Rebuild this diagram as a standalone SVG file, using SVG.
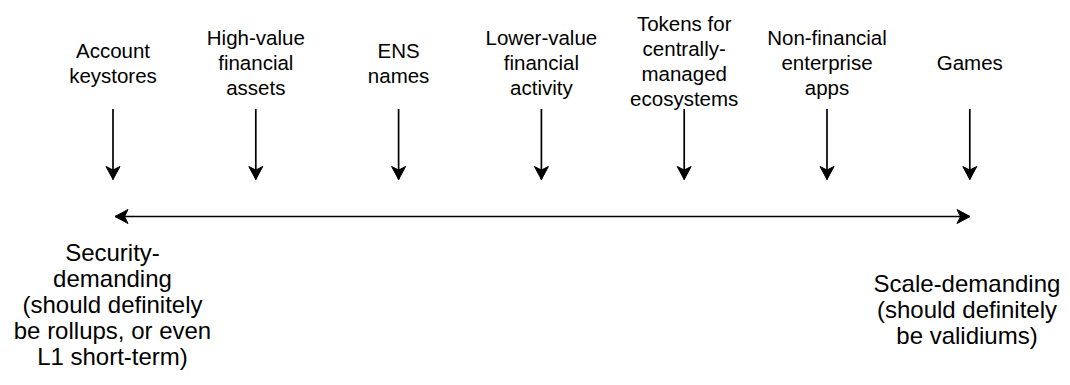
<svg xmlns="http://www.w3.org/2000/svg" width="1070" height="385" viewBox="0 0 1070 385">
<style>
.lbl{font-family:"Liberation Sans",Arial,Helvetica,sans-serif;font-size:20.5px;fill:#000;text-anchor:middle}
.big{font-family:"Liberation Sans",Arial,Helvetica,sans-serif;font-size:24px;fill:#000;text-anchor:middle}
.edge{stroke:#000;stroke-width:1.7;fill:none}
</style>
<defs>
<marker id="arr" viewBox="-14 -8 16 16" refX="0" refY="0" markerWidth="16" markerHeight="16" markerUnits="userSpaceOnUse" orient="auto-start-reverse">
<path d="M0,0 L-13,-7 L-9.5,0 L-13,7 Z" fill="#000" stroke="#000" stroke-width="1"/>
</marker>
</defs>
<rect width="1070" height="385" fill="#fff"/>
<g id="n1"><text class="lbl"><tspan x="113" y="57.5">Account</tspan><tspan x="113" y="82.5">keystores</tspan></text></g>
<g id="n2"><text class="lbl"><tspan x="255.8" y="45">High-value</tspan><tspan x="255.8" y="70">financial</tspan><tspan x="255.8" y="95">assets</tspan></text></g>
<g id="n3"><text class="lbl"><tspan x="398.6" y="57.5">ENS</tspan><tspan x="398.6" y="82.5">names</tspan></text></g>
<g id="n4"><text class="lbl"><tspan x="541.4" y="45">Lower-value</tspan><tspan x="541.4" y="70">financial</tspan><tspan x="541.4" y="95">activity</tspan></text></g>
<g id="n5"><text class="lbl"><tspan x="684.2" y="31">Tokens for</tspan><tspan x="684.2" y="56">centrally-</tspan><tspan x="684.2" y="81">managed</tspan><tspan x="684.2" y="106">ecosystems</tspan></text></g>
<g id="n6"><text class="lbl"><tspan x="827" y="45">Non-financial</tspan><tspan x="827" y="70">enterprise</tspan><tspan x="827" y="95">apps</tspan></text></g>
<g id="n7"><text class="lbl"><tspan x="969.8" y="70">Games</tspan></text></g>
<g id="n8"><text class="big"><tspan x="112.5" y="261">Security-</tspan><tspan x="112.5" y="287">demanding</tspan><tspan x="112.5" y="313">(should definitely</tspan><tspan x="112.5" y="339">be rollups, or even</tspan><tspan x="112.5" y="365">L1 short-term)</tspan></text></g>
<g id="n9"><text class="big"><tspan x="967" y="291.5">Scale-demanding</tspan><tspan x="967" y="317.5">(should definitely</tspan><tspan x="967" y="343.5">be validiums)</tspan></text></g>
<g id="connectors">
<line class="edge" x1="113" y1="109" x2="113" y2="179.5" marker-end="url(#arr)"/>
<line class="edge" x1="255.8" y1="109" x2="255.8" y2="179.5" marker-end="url(#arr)"/>
<line class="edge" x1="398.6" y1="109" x2="398.6" y2="179.5" marker-end="url(#arr)"/>
<line class="edge" x1="541.4" y1="109" x2="541.4" y2="179.5" marker-end="url(#arr)"/>
<line class="edge" x1="684.2" y1="109" x2="684.2" y2="179.5" marker-end="url(#arr)"/>
<line class="edge" x1="827" y1="109" x2="827" y2="179.5" marker-end="url(#arr)"/>
<line class="edge" x1="969.8" y1="109" x2="969.8" y2="179.5" marker-end="url(#arr)"/>
<line class="edge" x1="115" y1="216.5" x2="970" y2="216.5" marker-start="url(#arr)" marker-end="url(#arr)"/>
</g>
</svg>
